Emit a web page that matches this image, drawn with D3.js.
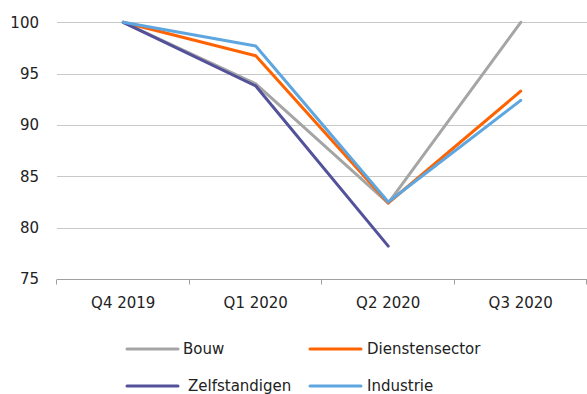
<!DOCTYPE html>
<html><head><meta charset="utf-8">
<script src="https://cdn.jsdelivr.net/npm/d3@7"></script>
<style>
html,body{margin:0;padding:0;background:#fff;}
svg{display:block;}
text{font-family:"DejaVu Sans",sans-serif;fill:#222;}
</style></head>
<body>
<svg id="chart" width="587" height="394"></svg>
<script>
const categories = ["Q4 2019", "Q1 2020", "Q2 2020", "Q3 2020"];
const bouw = [100, 94.0, 82.4, 100];
const dienstensector = [100, 96.75, 82.4, 93.3];
const zelfstandigen = [100, 93.8, 78.2, null];
const industrie = [100, 97.7, 82.5, 92.4];
const yTicks = [75, 80, 85, 90, 95, 100];
const seriesNames = ["Bouw", "Dienstensector", "Zelfstandigen", "Industrie"];
const seriesColors = ["#A5A5A5", "#FF6200", "#525199", "#5EA6DF"];

const series = [bouw, dienstensector, zelfstandigen, industrie].map((v, i) => ({
  name: seriesNames[i], color: seriesColors[i], values: v
}));

const svg = d3.select("#chart");
const plotLeft = 57, plotRight = 587, plotTop = 22.3, plotBottom = 279;

const x = d3.scaleBand().domain(categories).range([plotLeft, plotRight]).padding(0);
const y = d3.scaleLinear().domain([75, 100]).range([plotBottom, plotTop]);

// gridlines
svg.append("g").selectAll("line").data(yTicks.filter(t => t !== 75)).join("line")
  .attr("x1", plotLeft).attr("x2", plotRight)
  .attr("y1", d => Math.round(y(d)) + 0.5).attr("y2", d => Math.round(y(d)) + 0.5)
  .attr("stroke", "#C8C8C8").attr("stroke-width", 1);

// y labels
svg.append("g").selectAll("text").data(yTicks).join("text")
  .attr("x", 39).attr("y", d => y(d)).attr("dy", "0.36em")
  .attr("text-anchor", "end").style("font-size", "15px").text(d => d);

// x axis
const xAxis = svg.append("g").attr("transform", `translate(0,${Math.round(plotBottom) + 0.5})`);
xAxis.append("line").attr("x1", plotLeft).attr("x2", plotRight).attr("stroke", "#A0A0A0");
const bounds = categories.map(c => x(c)).concat([plotRight]);
xAxis.selectAll("line.tick").data(bounds).join("line").attr("class", "tick")
  .attr("x1", d => Math.round(d) - 0.5).attr("x2", d => Math.round(d) - 0.5)
  .attr("y1", 0).attr("y2", 5).attr("stroke", "#A0A0A0");
svg.append("g").selectAll("text").data(categories).join("text")
  .attr("x", d => x(d) + x.bandwidth() / 2).attr("y", 308)
  .attr("text-anchor", "middle").style("font-size", "15px").text(d => d);

// lines
const line = d3.line()
  .defined(d => d.v !== null)
  .x(d => x(d.c) + x.bandwidth() / 2)
  .y(d => y(d.v));
svg.append("g").selectAll("path").data(series).join("path")
  .attr("d", s => line(s.values.map((v, i) => ({ c: categories[i], v }))))
  .attr("fill", "none").attr("stroke", s => s.color)
  .attr("stroke-width", 3).attr("stroke-linejoin", "round").attr("stroke-linecap", "round");

// legend
const legendPos = [
  { x: 127, y: 349, tx: 183 },
  { x: 310, y: 349, tx: 367 },
  { x: 127, y: 386, tx: 188 },
  { x: 310, y: 386, tx: 367 }
];
const lg = svg.append("g").selectAll("g").data(series).join("g");
lg.append("line")
  .attr("x1", (d, i) => legendPos[i].x).attr("x2", (d, i) => legendPos[i].x + 51)
  .attr("y1", (d, i) => legendPos[i].y).attr("y2", (d, i) => legendPos[i].y)
  .attr("stroke", d => d.color).attr("stroke-width", 3).attr("stroke-linecap", "round");
lg.append("text")
  .attr("x", (d, i) => legendPos[i].tx).attr("y", (d, i) => legendPos[i].y).attr("dy", "0.36em")
  .style("font-size", "15px").text(d => d.name);
</script>
</body></html>
